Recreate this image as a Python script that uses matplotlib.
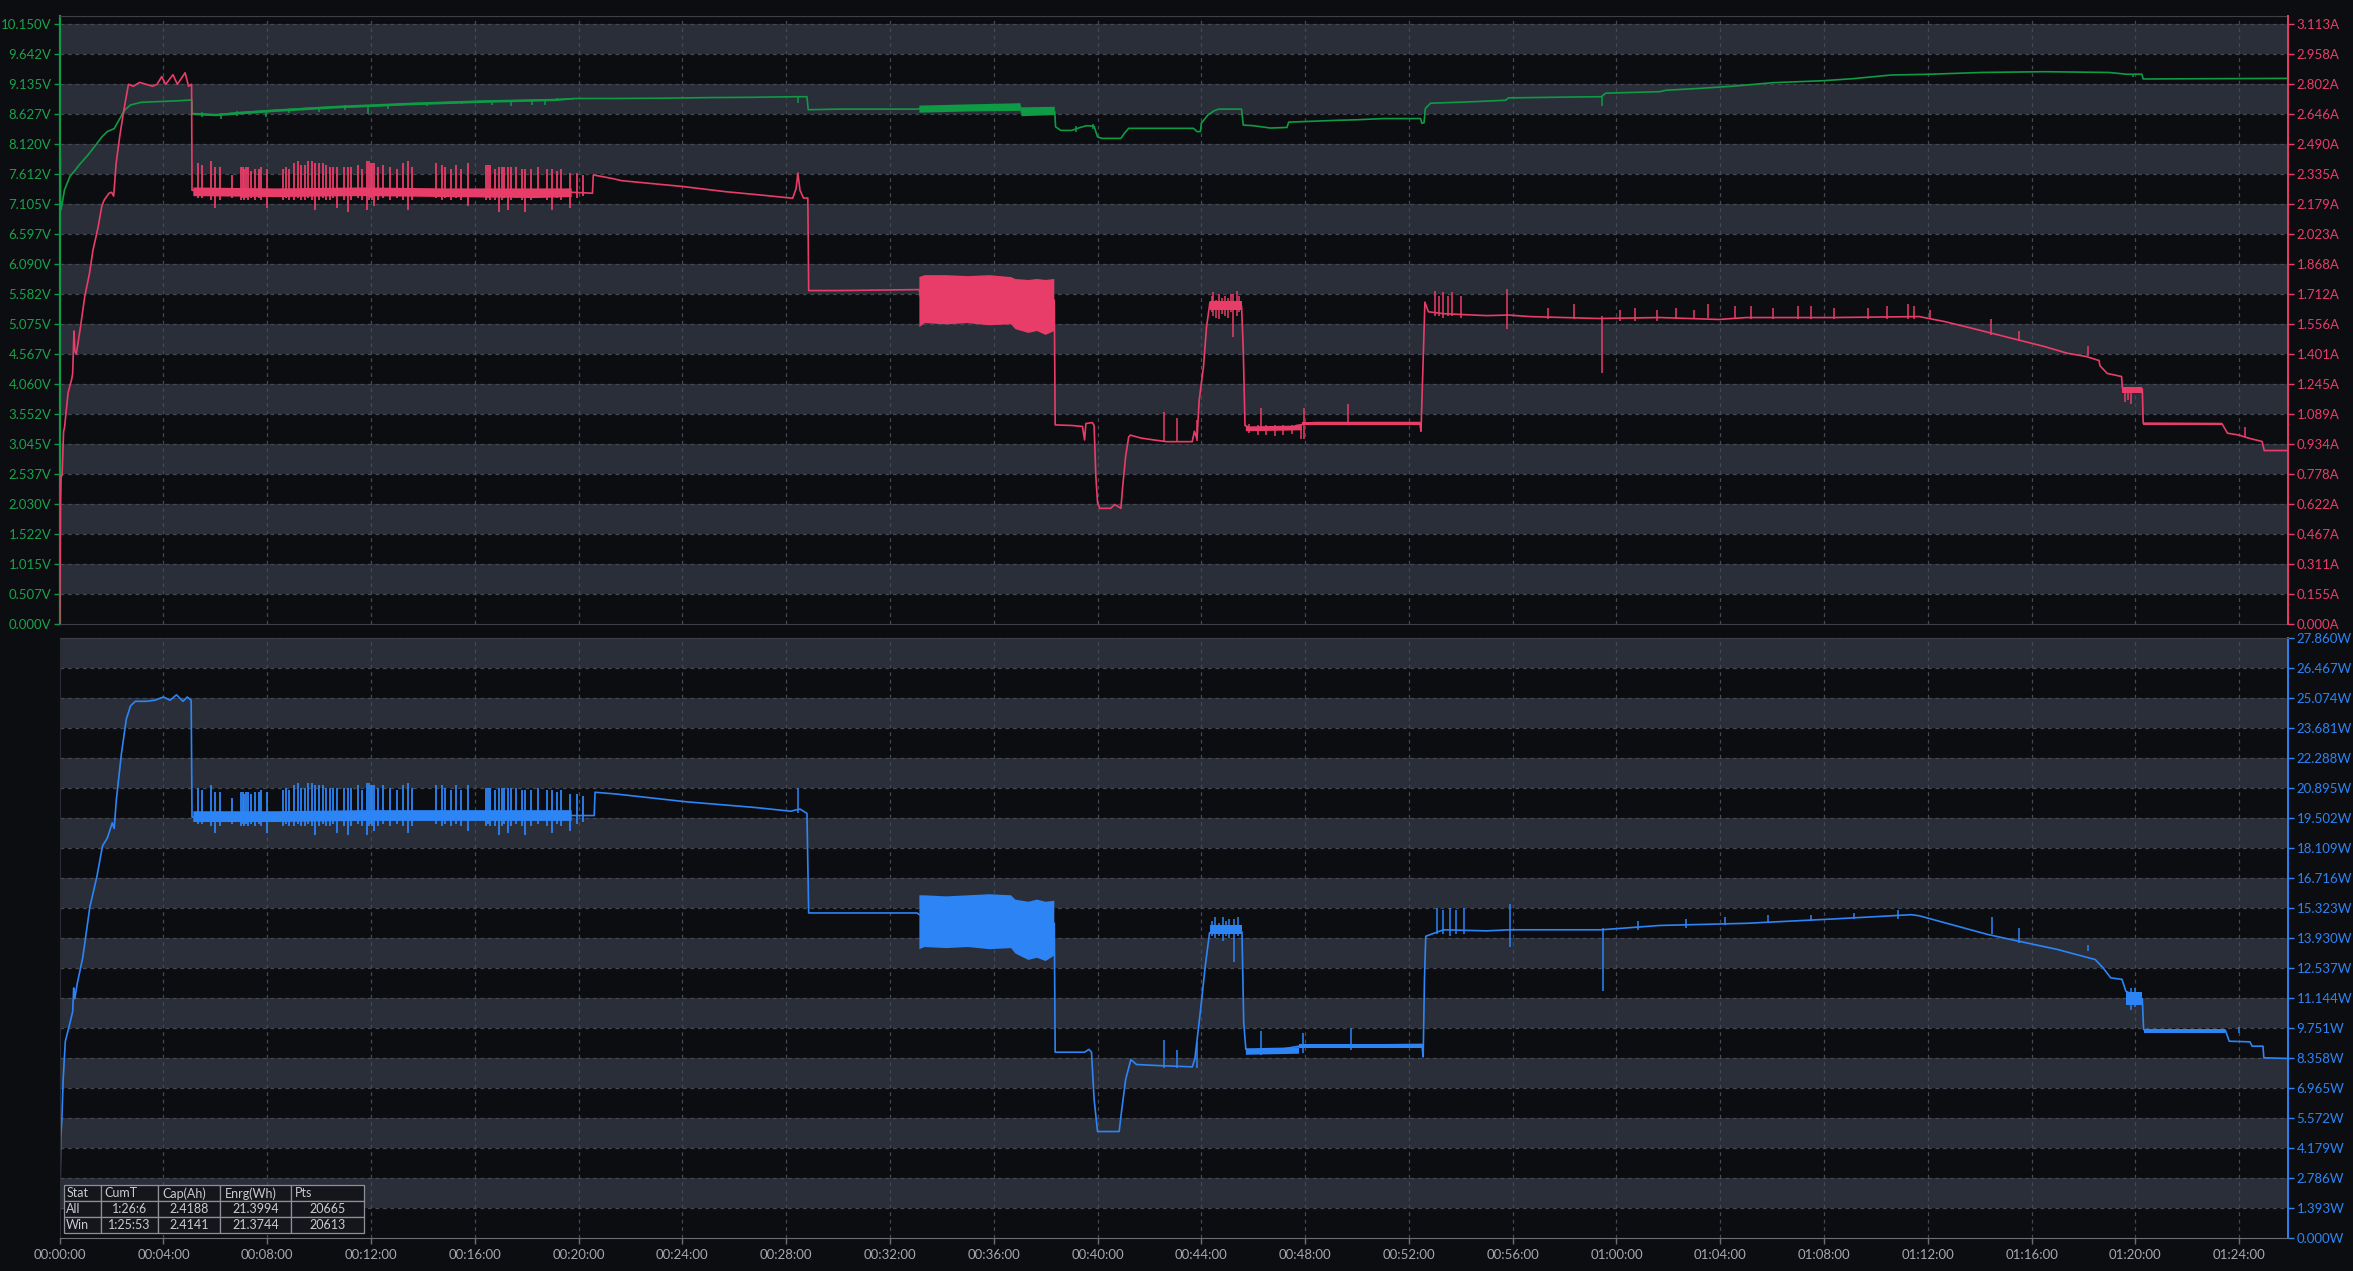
import matplotlib
matplotlib.use("Agg")
import matplotlib.pyplot as plt
import numpy as np

plt.rcParams['font.family'] = ['Lato', 'DejaVu Sans']

# ---- colours
BG = '#0c0d11'
BAND = '#2a2e39'
GRID = '#444852'
GREEN = '#0f9a45'
GREEN_TXT = '#19a24c'
RED = '#e83d68'
BLUE = '#2d84f5'
XTXT = '#a3a7ae'

# ---- axis tick labels (as printed on the chart)
volt_ticks = ['0.000V', '0.507V', '1.015V', '1.522V', '2.030V', '2.537V', '3.045V',
              '3.552V', '4.060V', '4.567V', '5.075V', '5.582V', '6.090V', '6.597V',
              '7.105V', '7.612V', '8.120V', '8.627V', '9.135V', '9.642V', '10.150V']
curr_ticks = ['0.000A', '0.155A', '0.311A', '0.467A', '0.622A', '0.778A', '0.934A',
              '1.089A', '1.245A', '1.401A', '1.556A', '1.712A', '1.868A', '2.023A',
              '2.179A', '2.335A', '2.490A', '2.646A', '2.802A', '2.958A', '3.113A']
pow_ticks = ['0.000W', '1.393W', '2.786W', '4.179W', '5.572W', '6.965W', '8.358W',
             '9.751W', '11.144W', '12.537W', '13.930W', '15.323W', '16.716W', '18.109W',
             '19.502W', '20.895W', '22.288W', '23.681W', '25.074W', '26.467W', '27.860W']
volt_max = 10.150
curr_max = 3.113
pow_max = 27.860
t_end = 5153          # seconds shown (1:25:53)
t_step = 240          # x tick every 4 minutes

# ---- voltage (V) main trace, t in seconds
volt_t = [0, 0.5, 1.5, 2, 4, 7, 11, 23.6, 36, 48, 65, 81, 97.6, 110, 126, 139, 151, 163.5,
          188, 237.5, 278.7, 303, 305.5, 306.5, 361, 418.6, 484, 566.7, 649, 715, 813.6, 896,
          978, 1060.5, 1143, 1192, 1281, 1400, 1500, 1600, 1700, 1728, 1731, 1800, 1983,
          1988, 2222, 2224, 2301, 2303, 2315, 2340, 2360, 2375, 2392, 2400, 2410, 2454,
          2462, 2472, 2500, 2622, 2630, 2638, 2640, 2655, 2669, 2680, 2733, 2737, 2760,
          2800, 2838, 2842, 2880, 2950, 3000, 3060, 3147, 3150, 3155, 3158, 3170, 3250,
          3344, 3350, 3500, 3565, 3575, 3700, 3715, 3793, 3873, 3961, 4076, 4147, 4235,
          4324, 4443, 4589, 4739, 4780, 4815, 4818, 5153]
volt_v = [7.05, 7.95, 7.95, 7.0, 7.05, 7.17, 7.34, 7.57, 7.68, 7.79, 7.93, 8.08, 8.24, 8.33,
          8.38, 8.55, 8.70, 8.78, 8.825, 8.84, 8.853, 8.865, 8.865, 8.63, 8.61, 8.655, 8.68,
          8.72, 8.75, 8.76, 8.80, 8.82, 8.84, 8.853, 8.865, 8.89, 8.89, 8.895, 8.905, 8.91,
          8.92, 8.92, 8.70, 8.71, 8.71, 8.72, 8.75, 8.66, 8.67, 8.41, 8.35, 8.35, 8.40, 8.43,
          8.42, 8.24, 8.215, 8.215, 8.30, 8.385, 8.385, 8.385, 8.33, 8.33, 8.47, 8.61, 8.68,
          8.71, 8.71, 8.44, 8.43, 8.39, 8.40, 8.49, 8.50, 8.52, 8.53, 8.55, 8.55, 8.47, 8.48,
          8.72, 8.81, 8.83, 8.86, 8.90, 8.915, 8.92, 8.98, 9.005, 9.03, 9.061, 9.10, 9.157,
          9.19, 9.225, 9.287, 9.30, 9.33, 9.343, 9.33, 9.30, 9.30, 9.22, 9.23]
# noisy thick parts of the voltage trace (nan separates segments)
volt_band_t = [306, 361, 484, 649, 813, 978, 1143, 1190, np.nan, 1988, 2100, 2222, np.nan, 2224, 2301]
volt_band_lo = [8.61, 8.59, 8.655, 8.725, 8.775, 8.815, 8.845, 8.875, np.nan, 8.65, 8.67, 8.68, np.nan, 8.59, 8.61]
volt_band_hi = [8.65, 8.63, 8.70, 8.77, 8.82, 8.86, 8.885, 8.90, np.nan, 8.77, 8.79, 8.81, np.nan, 8.74, 8.75]
volt_spk_t = [330, 373, 410, 476, 530, 600, 660, 713, 760, 850, 930, 999, 1044, 1093, 1122,
              1150, 1707, 2350, 2390, 3566, 4795]
volt_spk_lo = [8.58, 8.55, 8.60, 8.57, 8.64, 8.66, 8.70, 8.62, 8.72, 8.76, 8.79, 8.78, 8.77,
               8.78, 8.78, 8.84, 8.82, 8.33, 8.38, 8.77, 9.26]
volt_spk_hi = [8.66, 8.64, 8.68, 8.68, 8.72, 8.74, 8.78, 8.77, 8.79, 8.83, 8.85, 8.85, 8.86,
               8.87, 8.87, 8.89, 8.93, 8.42, 8.45, 8.93, 9.31]

# ---- current (A) main trace
curr_t = [0, 1, 2, 3.3, 5.5, 9, 11.2, 17, 19.4, 27.7, 30, 33, 35, 38.4, 48, 58, 69, 77, 88,
          97.6, 103, 114, 120, 124.8, 130.5, 138.8, 148.6, 159, 170, 185, 200, 215, 225, 236,
          245, 262, 272, 290, 298, 305, 306, 350, 500, 700, 900, 1100, 1184, 1232, 1234,
          1281, 1300, 1440, 1540, 1620, 1695, 1703, 1707, 1712, 1720, 1730, 1732, 1800, 1988,
          1990, 2300, 2302, 2340, 2365, 2370, 2373, 2388, 2392, 2396, 2400, 2405, 2430, 2440,
          2454, 2458, 2465, 2472, 2476, 2500, 2530, 2560, 2619, 2624, 2630, 2635, 2645, 2652,
          2660, 2680, 2700, 2720, 2733, 2737, 2741, 2760, 2800, 2840, 2860, 2900, 3000, 3100,
          3145, 3148, 3152, 3157, 3165, 3200, 3300, 3350, 3400, 3560, 3700, 3837, 3900, 4100,
          4300, 4359, 4412, 4465, 4527, 4589, 4642, 4686, 4716, 4718, 4735, 4768, 4770, 4816,
          4818, 5000, 5013, 5040, 5062, 5093, 5098, 5153]
curr_a = [0, 0.30, 0.62, 0.77, 0.77, 1.00, 1.02, 1.15, 1.20, 1.27, 1.30, 1.52, 1.42, 1.40,
          1.54, 1.70, 1.82, 1.94, 2.05, 2.17, 2.20, 2.235, 2.24, 2.22, 2.39, 2.53, 2.67, 2.80,
          2.79, 2.81, 2.80, 2.79, 2.80, 2.84, 2.80, 2.85, 2.80, 2.86, 2.79, 2.80, 2.25, 2.25,
          2.24, 2.24, 2.245, 2.245, 2.24, 2.235, 2.33, 2.31, 2.30, 2.27, 2.243, 2.226, 2.209,
          2.26, 2.34, 2.25, 2.21, 2.21, 1.73, 1.73, 1.735, 1.70, 1.68, 1.033, 1.03, 1.025,
          0.955, 1.04, 1.045, 1.03, 0.77, 0.63, 0.60, 0.60, 0.62, 0.60, 0.71, 0.87, 0.97,
          0.98, 0.965, 0.955, 0.946, 0.946, 1.00, 0.96, 1.16, 1.335, 1.54, 1.67, 1.65, 1.66,
          1.64, 1.65, 1.42, 1.03, 1.01, 1.015, 1.01, 1.03, 1.045, 1.045, 1.045, 1.045, 1.0,
          1.30, 1.67, 1.62, 1.61, 1.60, 1.603, 1.595, 1.585, 1.59, 1.58, 1.59, 1.59, 1.595,
          1.569, 1.54, 1.51, 1.475, 1.44, 1.405, 1.388, 1.367, 1.34, 1.30, 1.284, 1.224, 1.22,
          1.042, 1.04, 0.99, 0.98, 0.964, 0.947, 0.90, 0.90]
curr_band_t = [309, 500, 700, 900, 1100, 1184, np.nan,
               1988, 2000, 2050, 2100, 2150, 2200, 2210, 2240, 2260, 2280, 2300, np.nan,
               2660, 2733, np.nan, 2743, 2872, np.nan, 2872, 3145, np.nan, 4770, 4816, np.nan, 4818, 5000]
curr_band_lo = [2.22, 2.215, 2.22, 2.215, 2.21, 2.215, np.nan,
                1.54, 1.56, 1.555, 1.56, 1.55, 1.555, 1.53, 1.51, 1.52, 1.50, 1.52, np.nan,
                1.63, 1.63, np.nan, 1.0, 1.005, np.nan, 1.035, 1.035, np.nan, 1.20, 1.20, np.nan, 1.03, 1.03]
curr_band_hi = [2.265, 2.26, 2.265, 2.26, 2.26, 2.26, np.nan,
                1.80, 1.81, 1.81, 1.805, 1.81, 1.80, 1.79, 1.785, 1.79, 1.785, 1.79, np.nan,
                1.675, 1.675, np.nan, 1.025, 1.03, np.nan, 1.05, 1.05, np.nan, 1.23, 1.23, np.nan, 1.045, 1.045]
curr_spk_t = [320, 328, 349, 359, 371, 398, 419, 423, 427, 431,
              435, 442, 451, 460, 466, 480, 517, 524, 530, 542,
              550, 558, 567, 575, 583, 591, 600, 608, 616, 624,
              633, 641, 657, 666, 674, 689, 698, 711, 715, 719,
              723, 727, 735, 748, 764, 781, 793, 805, 814, 871,
              884, 892, 904, 916, 929, 945, 986, 990, 995, 1007,
              1015, 1023, 1028, 1036, 1044, 1056, 1069, 1077, 1089, 1106,
              1126, 1139, 1151, 1159, 1180, 1197, 1209]
curr_spk_hi = [2.39, 2.38, 2.40, 2.37, 2.37, 2.33, 2.37, 2.37, 2.36, 2.37,
               2.37, 2.35, 2.36, 2.36, 2.37, 2.36, 2.36, 2.37, 2.36, 2.39,
               2.40, 2.38, 2.38, 2.40, 2.40, 2.39, 2.39, 2.39, 2.38, 2.37,
               2.37, 2.37, 2.37, 2.37, 2.37, 2.38, 2.36, 2.40, 2.40, 2.39,
               2.39, 2.39, 2.37, 2.38, 2.37, 2.36, 2.39, 2.40, 2.37, 2.39,
               2.38, 2.37, 2.36, 2.38, 2.36, 2.39, 2.38, 2.38, 2.38, 2.36,
               2.37, 2.37, 2.37, 2.37, 2.37, 2.37, 2.36, 2.36, 2.36, 2.37,
               2.36, 2.36, 2.35, 2.36, 2.34, 2.34, 2.33]
curr_spk_lo = [2.21, 2.21, 2.20, 2.16, 2.20, 2.21, 2.20, 2.21, 2.20, 2.21,
               2.20, 2.21, 2.20, 2.21, 2.20, 2.16, 2.20, 2.21, 2.20, 2.20,
               2.21, 2.20, 2.20, 2.21, 2.20, 2.15, 2.20, 2.21, 2.20, 2.20,
               2.21, 2.16, 2.20, 2.14, 2.20, 2.21, 2.20, 2.15, 2.20, 2.21,
               2.20, 2.17, 2.20, 2.21, 2.20, 2.21, 2.20, 2.15, 2.20, 2.21,
               2.20, 2.21, 2.20, 2.21, 2.20, 2.17, 2.20, 2.21, 2.20, 2.20,
               2.14, 2.20, 2.21, 2.15, 2.20, 2.21, 2.20, 2.14, 2.20, 2.21,
               2.20, 2.15, 2.21, 2.20, 2.16, 2.21, 2.22]
# later isolated current spikes
curr_spk2_t = [2553, 2584, 2630, 2664, 2668, 2674, 2680, 2688, 2695, 2702, 2708, 2714, 2722,
               2728, 2750, 2770, 2779, 2790, 2810, 2830, 2850, 2870, 2877, 2980, 3181, 3190,
               3198, 3211, 3220, 3241, 3348, 3442, 3502, 3566, 3608, 3643, 3694, 3737, 3779,
               3811, 3873, 3912, 3961, 4019, 4050, 4103, 4182, 4226, 4275, 4288, 4324, 4465,
               4531, 4690, 4775, 4782, 4790, 5053]
curr_spk2_hi = [1.10, 1.07, 1.06, 1.70, 1.72, 1.68, 1.71, 1.69, 1.70, 1.69, 1.71, 1.71, 1.73,
                1.70, 1.04, 1.03, 1.12, 1.03, 1.03, 1.03, 1.03, 1.04, 1.12, 1.14, 1.73, 1.70,
                1.72, 1.70, 1.72, 1.70, 1.74, 1.64, 1.66, 1.60, 1.63, 1.64, 1.63, 1.64, 1.63,
                1.66, 1.65, 1.65, 1.64, 1.65, 1.65, 1.64, 1.64, 1.65, 1.66, 1.65, 1.63, 1.58,
                1.52, 1.44, 1.23, 1.23, 1.23, 1.02]
curr_spk2_lo = [0.95, 0.95, 0.95, 1.62, 1.60, 1.59, 1.58, 1.61, 1.60, 1.59, 1.62, 1.49, 1.60,
                1.62, 0.99, 0.98, 1.01, 0.98, 0.975, 0.98, 0.985, 0.96, 0.96, 1.04, 1.60, 1.60,
                1.59, 1.60, 1.60, 1.59, 1.53, 1.58, 1.58, 1.30, 1.57, 1.57, 1.57, 1.58, 1.58,
                1.59, 1.58, 1.58, 1.58, 1.58, 1.58, 1.58, 1.58, 1.58, 1.58, 1.58, 1.58, 1.50,
                1.47, 1.39, 1.15, 1.16, 1.14, 0.97]

# ---- power (W) main trace
pow_t = [0, 1, 2.6, 5, 8, 13, 24, 30, 32.4, 35, 40.5, 53.5, 69.7, 86, 99, 110, 121.6, 126, 131,
         142.7, 154, 163.8, 175, 200, 220, 240, 255, 270, 285, 295, 304, 306, 400, 600, 800,
         1000, 1180, 1236, 1238, 1286, 1448, 1610, 1691, 1700, 1712, 1728, 1732, 1983, 1988,
         2300, 2302, 2370, 2380, 2386, 2392, 2400, 2450, 2455, 2465, 2477, 2490, 2540, 2619,
         2625, 2640, 2649, 2659, 2680, 2700, 2720, 2734, 2738, 2743, 2800, 2866, 3000, 3150,
         3153, 3156, 3159, 3200, 3300, 3353, 3400, 3565, 3700, 3900, 4100, 4282, 4300, 4459,
         4530, 4619, 4707, 4725, 4743, 4769, 4778, 4816, 4819, 5008, 5017, 5065, 5070, 5095,
         5097, 5153]
pow_w = [0, 2.5, 4.7, 5.5, 7.34, 9.12, 10.0, 10.5, 11.6, 11.1, 11.8, 13.03, 15.35, 16.77,
         18.19, 18.55, 19.26, 19.0, 20.33, 22.46, 24.07, 24.69, 24.9, 24.9, 24.95, 25.1, 24.95,
         25.2, 24.9, 25.1, 24.95, 19.53, 19.5, 19.55, 19.6, 19.65, 19.6, 19.6, 20.68, 20.6,
         20.24, 19.97, 19.8, 19.85, 19.9, 19.7, 15.08, 15.08, 15.0, 14.6, 8.62, 8.62, 8.75,
         8.62, 6.45, 4.94, 4.94, 5.8, 7.35, 8.28, 8.05, 8.0, 7.94, 8.3, 10.9, 12.6, 14.16,
         14.3, 14.25, 14.35, 14.2, 10.0, 8.75, 8.67, 8.9, 8.95, 8.98, 8.4, 12.0, 14.0, 14.3,
         14.25, 14.3, 14.3, 14.3, 14.5, 14.6, 14.8, 15.0, 14.95, 14.08, 13.77, 13.39, 12.92,
         12.54, 12.07, 12.0, 11.45, 11.1, 9.67, 9.64, 9.13, 9.1, 8.9, 8.9, 8.36, 8.33]
pow_band_t = [309, 500, 700, 900, 1100, 1184, np.nan,
              1988, 2000, 2050, 2100, 2150, 2200, 2210, 2240, 2260, 2280, 2300, np.nan,
              2659, 2734, np.nan, 2743, 2866, np.nan, 2866, 3150, np.nan, 4778, 4816, np.nan, 4821, 5008]
pow_band_lo = [19.3, 19.3, 19.35, 19.35, 19.35, 19.35, np.nan,
               13.4, 13.5, 13.45, 13.5, 13.4, 13.45, 13.2, 12.9, 13.0, 12.85, 13.1, np.nan,
               14.1, 14.1, np.nan, 8.5, 8.55, np.nan, 8.8, 8.8, np.nan, 10.8, 10.8, np.nan, 9.52, 9.52]
pow_band_hi = [19.8, 19.8, 19.85, 19.85, 19.85, 19.85, np.nan,
               15.9, 15.9, 15.85, 15.9, 15.95, 15.9, 15.7, 15.6, 15.7, 15.6, 15.65, np.nan,
               14.5, 14.5, np.nan, 8.8, 8.85, np.nan, 9.0, 9.0, np.nan, 11.4, 11.4, np.nan, 9.7, 9.7]
pow_spk_hi = [20.9, 20.8, 21.0, 20.7, 20.7, 20.4, 20.7, 20.7, 20.6, 20.7,
              20.7, 20.6, 20.7, 20.7, 20.8, 20.7, 20.8, 20.9, 20.8, 21.0,
              21.1, 20.9, 20.9, 21.1, 21.1, 21.0, 21.0, 21.0, 20.9, 20.9,
              20.9, 20.9, 20.9, 20.9, 20.9, 21.0, 20.8, 21.1, 21.1, 21.0,
              21.0, 21.0, 20.9, 21.0, 20.9, 20.8, 21.0, 21.1, 20.9, 21.0,
              21.0, 20.9, 20.8, 21.0, 20.8, 21.0, 20.9, 20.9, 20.9, 20.8,
              20.9, 20.9, 20.9, 20.9, 20.9, 20.9, 20.8, 20.8, 20.8, 20.9,
              20.8, 20.8, 20.7, 20.8, 20.6, 20.6, 20.5]
pow_spk_lo = [19.2, 19.2, 19.1, 18.8, 19.1, 19.2, 19.1, 19.2, 19.1, 19.2,
              19.1, 19.2, 19.1, 19.2, 19.1, 18.8, 19.1, 19.2, 19.1, 19.1,
              19.2, 19.1, 19.1, 19.2, 19.1, 18.7, 19.1, 19.2, 19.1, 19.1,
              19.2, 18.8, 19.1, 18.7, 19.1, 19.2, 19.1, 18.7, 19.1, 19.2,
              19.1, 18.9, 19.1, 19.2, 19.1, 19.2, 19.1, 18.8, 19.1, 19.2,
              19.1, 19.2, 19.1, 19.2, 19.1, 18.9, 19.1, 19.2, 19.1, 19.1,
              18.7, 19.1, 19.2, 18.8, 19.1, 19.2, 19.1, 18.7, 19.1, 19.2,
              19.1, 18.8, 19.2, 19.1, 18.9, 19.2, 19.3]
pow_spk2_t = [1708, 2553, 2583, 2630, 2665, 2672, 2680, 2690, 2698, 2705, 2716, 2725, 2778,
              2875, 2985, 3185, 3200, 3215, 3230, 3247, 3353, 3569, 3650, 3760, 3850, 3950,
              4050, 4150, 4250, 4468, 4530, 4690, 4790, 4800, 5040]
pow_spk2_hi = [20.9, 9.2, 8.7, 9.1, 14.7, 14.9, 14.6, 14.9, 14.7, 14.8, 14.8, 14.9, 9.6,
               9.5, 9.75, 15.3, 15.2, 15.3, 15.2, 15.3, 15.5, 14.4, 14.7, 14.8, 14.9, 15.0,
               15.0, 15.1, 15.2, 14.9, 14.4, 13.6, 11.6, 11.6, 9.8]
pow_spk2_lo = [19.7, 7.9, 7.9, 7.9, 14.0, 13.9, 14.0, 13.8, 14.0, 13.9, 12.8, 14.0, 8.5,
               8.6, 8.7, 14.1, 14.1, 14.0, 14.1, 14.1, 13.5, 11.45, 14.3, 14.4, 14.5, 14.6,
               14.7, 14.8, 14.8, 14.1, 13.7, 13.3, 10.6, 10.7, 9.5]

# ---- stats table
table_rows = [['Stat', 'CumT', 'Cap(Ah)', 'Enrg(Wh)', 'Pts'],
              ['All', '1:26:6', '2.4188', '21.3994', '20665'],
              ['Win', '1:25:53', '2.4141', '21.3744', '20613']]


def hms(sec):
    sec = int(round(sec))
    return "%02d:%02d:%02d" % (sec // 3600, sec % 3600 // 60, sec % 60)


def bands(ax, vmax, top):
    step = vmax / 20
    ax.axhspan(0, top, color=BG, zorder=0, lw=0)
    for k in range(1, 20, 2):
        ax.axhspan(k * step, (k + 1) * step, color=BAND, zorder=0.1, lw=0)
    for k in range(1, 21):
        ax.axhline(k * step, color=GRID, lw=0.9, ls=(0, (3, 3)), zorder=0.2)


fig = plt.figure(figsize=(23.53, 12.71), dpi=100, facecolor=BG)
ax_v = fig.add_axes([0.02537, 0.50905, 0.94702, 0.47836])
ax_p = fig.add_axes([0.02537, 0.02596, 0.94702, 0.47246], sharex=ax_v)
ax_i = ax_v.twinx()

# top margin above the highest tick in the upper panel (8 px of 30 px per step)
top_frac = 1 + 8 / 600
v_top = volt_max * top_frac
i_top = curr_max * top_frac

bands(ax_v, volt_max, v_top)
bands(ax_p, pow_max, pow_max)

xt = np.arange(0, t_end + 1, t_step)
for ax in (ax_v, ax_p):
    for x in xt[1:]:
        ax.axvline(x, color=GRID, lw=0.9, ls=(0, (3, 3)), zorder=0.2)
    ax.set_facecolor(BG)

# voltage
ax_v.fill_between(volt_band_t, volt_band_lo, volt_band_hi, color=GREEN, lw=0, zorder=2)
ax_v.vlines(volt_spk_t, volt_spk_lo, volt_spk_hi, color=GREEN, lw=1.1, zorder=2)
ax_v.plot(volt_t, volt_v, color=GREEN, lw=1.2, zorder=2)

# current
ax_i.fill_between(curr_band_t, curr_band_lo, curr_band_hi, color=RED, lw=0, zorder=2)
ax_i.vlines(curr_spk_t, curr_spk_lo, curr_spk_hi, color=RED, lw=1.3, zorder=2)
ax_i.vlines(curr_spk2_t, curr_spk2_lo, curr_spk2_hi, color=RED, lw=1.1, zorder=2)
ax_i.plot(curr_t, curr_a, color=RED, lw=1.2, zorder=2)

# power
ax_p.fill_between(pow_band_t, pow_band_lo, pow_band_hi, color=BLUE, lw=0, zorder=2)
ax_p.vlines(curr_spk_t, pow_spk_lo, pow_spk_hi, color=BLUE, lw=1.3, zorder=2)
ax_p.vlines(pow_spk2_t, pow_spk2_lo, pow_spk2_hi, color=BLUE, lw=1.1, zorder=2)
ax_p.plot(pow_t, pow_w, color=BLUE, lw=1.2, zorder=2)

# axes ranges and ticks
ax_v.set_xlim(0, t_end)
ax_v.set_ylim(0, v_top)
ax_i.set_ylim(0, i_top)
ax_p.set_ylim(0, pow_max)

ax_v.set_yticks(np.linspace(0, volt_max, 21), volt_ticks)
ax_i.set_yticks(np.linspace(0, curr_max, 21), curr_ticks)
ax_p.yaxis.tick_right()
ax_p.set_yticks(np.linspace(0, pow_max, 21), pow_ticks)
ax_p.set_xticks(xt, [hms(x) for x in xt])

ax_v.tick_params(axis='y', colors=GREEN, labelcolor=GREEN_TXT, length=4, width=1, pad=2, labelsize=9.5)
ax_i.tick_params(axis='y', colors=RED, labelcolor=RED, length=4, width=1, pad=2, labelsize=9.5)
ax_p.tick_params(axis='y', colors=BLUE, labelcolor=BLUE, length=4, width=1, pad=2, labelsize=9.5)
ax_v.tick_params(axis='x', length=0, labelbottom=False)
ax_p.tick_params(axis='x', colors='#6a6e77', labelcolor=XTXT, length=4, width=1, pad=4, labelsize=9.5)

for s in ('top', 'bottom'):
    ax_v.spines[s].set_color('#3d4049')
    ax_p.spines[s].set_color('#3d4049')
ax_p.spines['bottom'].set_color('#6a6e77')
ax_v.spines['left'].set_color(GREEN)
ax_v.spines['left'].set_linewidth(1.6)
ax_v.spines['right'].set_visible(False)
for s in ('left', 'top', 'bottom'):
    ax_i.spines[s].set_visible(False)
ax_i.spines['right'].set_color(RED)
ax_i.spines['right'].set_linewidth(1.4)
ax_p.spines['left'].set_color('#2a2d35')
ax_p.spines['right'].set_color(BLUE)
ax_p.spines['right'].set_linewidth(1.4)

# stats table (lower left of the power panel)
tab = ax_p.table(cellText=table_rows, cellLoc='center',
                 colWidths=[36.7, 57.6, 62.0, 70.4, 73.6],
                 bbox=[0.0019, 0.0078, 0.1348, 0.0799])
tab.auto_set_font_size(False)
tab.set_fontsize(9)
for (r, c), cell in tab.get_celld().items():
    cell.set_facecolor('#15161b')
    cell.set_edgecolor('#8d9097')
    cell.set_linewidth(0.9)
    cell.get_text().set_color('#c9cbd0')
    if r == 0 or c == 0:
        cell._loc = 'left'
        cell.PAD = 0.06
        cell.get_text().set_horizontalalignment('left')
tab.set_zorder(5)

fig.savefig("out.png", dpi=100, facecolor=BG)
